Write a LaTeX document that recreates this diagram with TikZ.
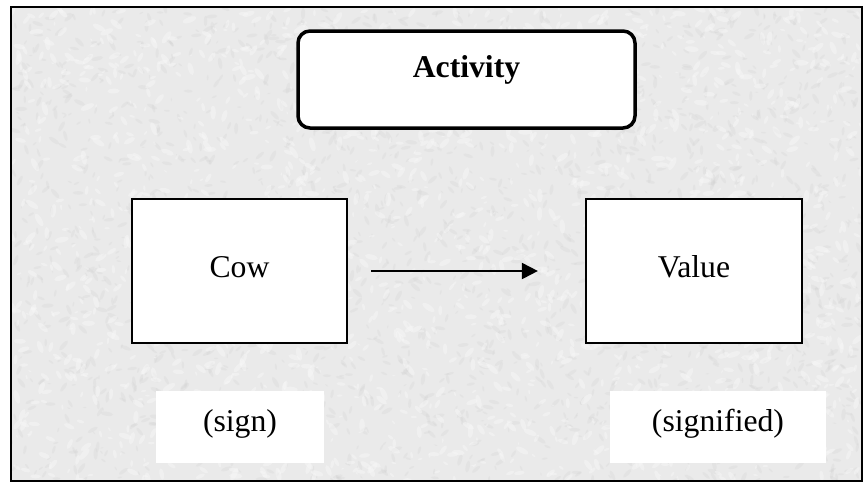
\documentclass[tikz,border=0pt]{standalone}
\usepackage{fontspec}
\setmainfont{Liberation Serif}
\usetikzlibrary{arrows.meta}
\definecolor{paper}{RGB}{234,234,234}
\definecolor{speck}{RGB}{205,205,205}
\definecolor{speckl}{RGB}{248,248,248}
\tikzset{
  txt/.style={font=\fontsize{31.7}{38}\selectfont, text=black},
  sqbox/.style={draw=black, fill=white, line width=2.2pt, inner sep=0pt, txt},
  actbox/.style={draw=black, fill=white, line width=3.5pt, rounded corners=12pt, inner sep=0pt, txt},
  lblbox/.style={draw=none, fill=white, inner sep=0pt, txt},
  link/.style={draw=black, line width=2pt, -{Triangle[length=16pt,width=16pt]}},
  frame/.style={draw=black, line width=2.2pt, fill=paper}
}
\begin{document}
\begin{tikzpicture}[x=1pt,y=-1pt]
\useasboundingbox (0,0) rectangle (864,483);
\fill[white] (0,0) rectangle (864,483);
\path[frame] (11,7) rectangle (862,481);
% paper texture
\pgfmathsetseed{4711}
\begin{scope}
\clip (12,8) rectangle (861,480);
\foreach \i in {1,...,2200}{
  \pgfmathsetmacro\xx{12+rnd*850}
  \pgfmathsetmacro\yy{8+rnd*472}
  \pgfmathsetmacro\rr{1+rnd*2.5}
  \pgfmathsetmacro\aa{rnd*180}
  \fill[speck, opacity=0.22, rotate around={\aa:(\xx,\yy)}] (\xx,\yy) ellipse ({1.8*\rr} and {0.6*\rr});
}
\foreach \i in {1,...,1800}{
  \pgfmathsetmacro\xx{12+rnd*850}
  \pgfmathsetmacro\yy{8+rnd*472}
  \pgfmathsetmacro\rr{1+rnd*3}
  \pgfmathsetmacro\aa{rnd*180}
  \fill[speckl, opacity=0.45, rotate around={\aa:(\xx,\yy)}] (\xx,\yy) ellipse ({1.8*\rr} and {0.7*\rr});
}
\end{scope}
\draw[black, line width=2.2pt] (11,7) rectangle (862,481);

\node[actbox, minimum width=337pt, minimum height=97pt, text height=22pt, text depth=26pt, font=\fontsize{31.7}{38}\selectfont\bfseries] (act) at (466.5,79.5) {Activity};
\node[sqbox, minimum width=215pt, minimum height=144pt, text height=22pt, text depth=10pt] (cow) at (239.5,271) {Cow};
\node[sqbox, minimum width=216pt, minimum height=144pt, text height=22pt, text depth=10pt] (val) at (694,271) {Value};
\node[lblbox, minimum width=168pt, minimum height=72pt, text height=22pt, text depth=14pt] (sign) at (240,427) {(sign)};
\node[lblbox, minimum width=216pt, minimum height=72pt, text height=22pt, text depth=14pt] (sigd) at (718,427) {(signified)};

\draw[link] ([xshift=23pt]cow.east) -- ([xshift=-47pt]val.west);
\end{tikzpicture}
\end{document}
